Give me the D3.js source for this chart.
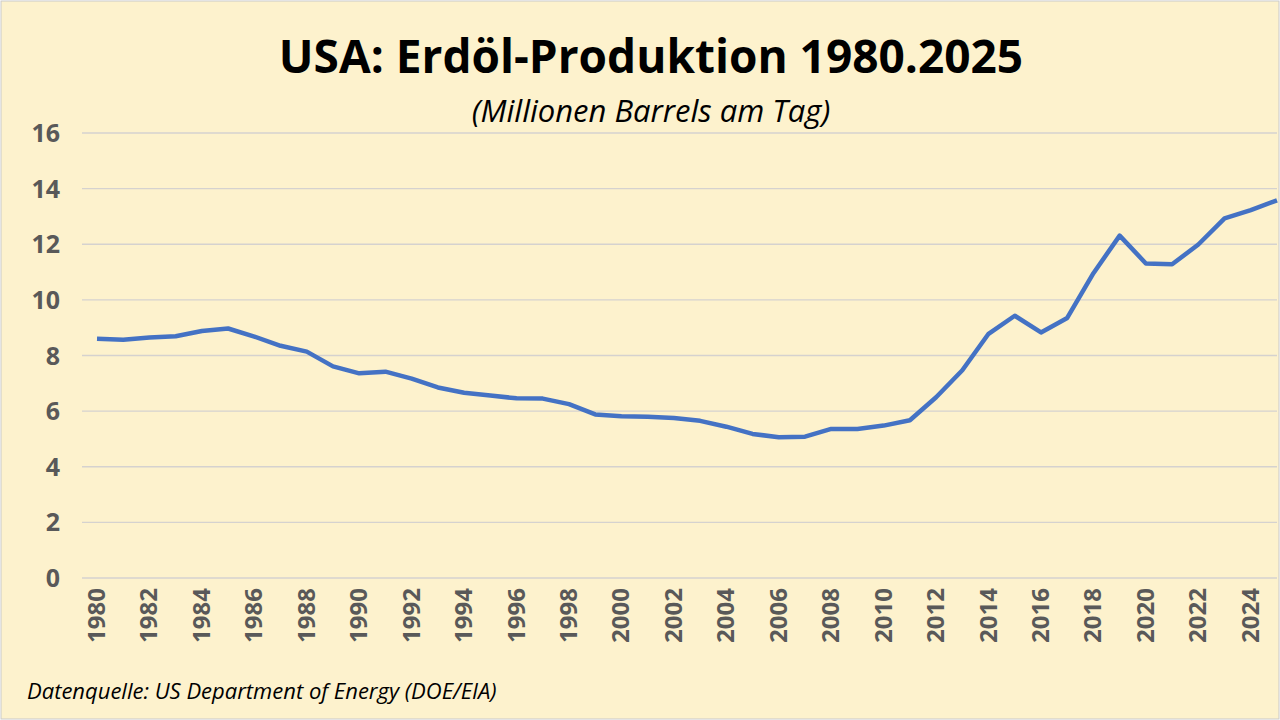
<!DOCTYPE html>
<meta charset="utf-8">
<script src="https://d3js.org/d3.v7.min.js"></script>
<style>
  body { margin: 0; background: #fff; }
  text { font-family: "Open Sans", "Liberation Sans", sans-serif; }
</style>
<svg id="chart" width="1280" height="720"></svg>
<script>
  var years = d3.range(1980, 2026);
  var production = [8.60, 8.57, 8.65, 8.69, 8.88, 8.97, 8.68, 8.35, 8.14, 7.61,
                    7.36, 7.42, 7.17, 6.85, 6.66, 6.56, 6.46, 6.45, 6.25, 5.88,
                    5.82, 5.80, 5.75, 5.65, 5.44, 5.18, 5.06, 5.08, 5.36, 5.36,
                    5.48, 5.67, 6.50, 7.47, 8.78, 9.43, 8.83, 9.35, 10.96, 12.31,
                    11.31, 11.28, 11.99, 12.93, 13.23, 13.58];
  var yTicks = [0, 2, 4, 6, 8, 10, 12, 14, 16];
  var xTicks = d3.range(1980, 2025, 2);

  var svg = d3.select('#chart');
  svg.append('rect').attr('x', 1).attr('y', 1).attr('width', 1278).attr('height', 718)
     .attr('fill', '#fdf2cd').attr('stroke', '#c9c9c9');

  var x = d3.scaleLinear().domain([1980, 2025]).range([97, 1277]);
  var y = d3.scaleLinear().domain([0, 16]).range([578, 133]);

  // grid
  svg.append('g').selectAll('line').data(yTicks).enter().append('line')
     .attr('x1', 82).attr('x2', 1277)
     .attr('y1', function(d) { return y(d); }).attr('y2', function(d) { return y(d); })
     .attr('stroke', '#d5d2cf').attr('stroke-width', 1.3);

  svg.append('g').selectAll('text').data(yTicks).enter().append('text')
     .attr('x', 60).attr('y', function(d) { return y(d) + 9; })
     .attr('text-anchor', 'end').attr('font-size', 25).attr('font-weight', 'bold')
     .attr('fill', '#595959').text(function(d) { return d; });

  svg.append('g').selectAll('text').data(xTicks).enter().append('text')
     .attr('transform', function(d) { return 'translate(' + (x(d) + 8) + ',588) rotate(-90)'; })
     .attr('text-anchor', 'end').attr('font-size', 24).attr('font-weight', 'bold')
     .attr('fill', '#595959').text(function(d) { return d; });

  var line = d3.line().x(function(d, i) { return x(years[i]); }).y(function(d) { return y(d); });
  svg.append('path').datum(production).attr('d', line)
     .attr('fill', 'none').attr('stroke', '#4472c4').attr('stroke-width', 4.5)
     .attr('stroke-linejoin', 'round');

  svg.append('text').attr('x', 651).attr('y', 73).attr('text-anchor', 'middle')
     .attr('font-size', 46).attr('font-weight', 'bold').attr('fill', '#000')
     .text('USA: Erdöl-Produktion 1980.2025');
  svg.append('text').attr('x', 651).attr('y', 122).attr('text-anchor', 'middle')
     .attr('font-size', 31).attr('font-style', 'italic').attr('fill', '#000')
     .text('(Millionen Barrels am Tag)');
  svg.append('text').attr('x', 27).attr('y', 699)
     .attr('font-size', 22).attr('font-style', 'italic').attr('fill', '#000')
     .text('Datenquelle: US Department of Energy (DOE/EIA)');
</script>
